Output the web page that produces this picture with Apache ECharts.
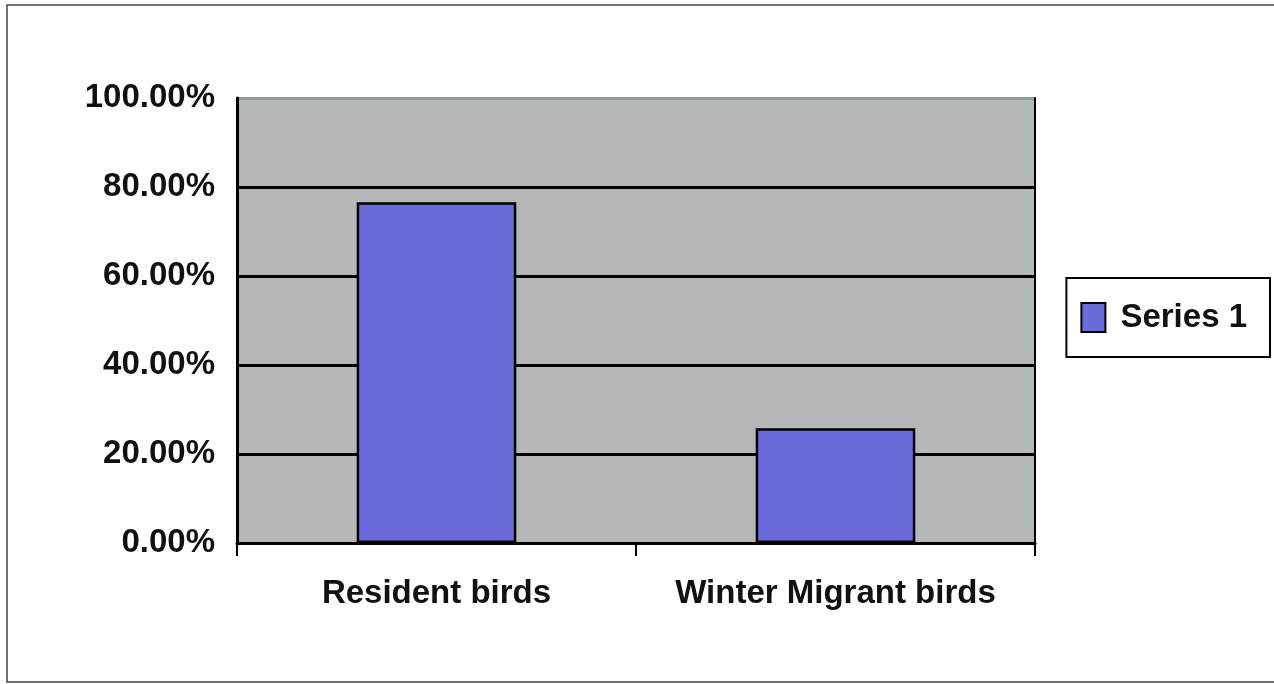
<!DOCTYPE html>
<html>
<head>
<meta charset="utf-8">
<script src="https://cdn.jsdelivr.net/npm/echarts@6/dist/echarts.min.js"></script>
<style>
	html, body { margin: 0; padding: 0; background: #fff; }
	#chart { width: 1274px; height: 684px; }
</style>
</head>
<body>
<div id="chart"></div>
<script>
(function() {
	"use strict";
	// 数据
	var categories = ['Resident birds', 'Winter Migrant birds'];
	var seriesName = 'Series 1';
	var seriesValues = [0.766, 0.258];
	var yTicks = [0, 0.2, 0.4, 0.6, 0.8, 1];

	var fontFamily = '"Liberation Sans", Arial, sans-serif';
	var myChart = echarts.init(document.getElementById('chart'));
	var option = {
		backgroundColor : '#ffffff',
		animation : false,
		graphic : [ {
			type : 'rect',
			shape : { x : 7, y : 5, width : 1270, height : 677 },
			style : { fill : 'none', stroke : '#444', lineWidth : 1.5 },
			silent : true
		} ],
		legend : {
			right : 4,
			top : 278,
			orient : 'vertical',
			data : [ seriesName ],
			borderColor : '#000',
			borderWidth : 2,
			padding : [ 23, 23, 23, 14 ],
			itemWidth : 24,
			itemHeight : 29,
			icon : 'rect',
			textStyle : {
				fontFamily : fontFamily,
				fontWeight : 'bold',
				fontSize : 33,
				color : '#111',
				padding : [ 0, 0, 0, 10 ]
			}
		},
		grid : {
			left : 237,
			right : 239,
			top : 98,
			bottom : 141,
			show : true,
			backgroundColor : '#b4b8b8',
			borderWidth : 0
		},
		xAxis : [ {
			type : 'category',
			data : categories,
			axisLine : { lineStyle : { color : '#000', width : 3 } },
			axisTick : { show : true, interval : 0, length : 13, lineStyle : { color : '#000', width : 2 } },
			axisLabel : {
				interval : 0,
				margin : 34,
				color : '#111',
				fontFamily : fontFamily,
				fontWeight : 'bold',
				fontSize : 33
			}
		} ],
		yAxis : [ {
			type : 'value',
			min : yTicks[0],
			max : yTicks[yTicks.length - 1],
			interval : 0.2,
			axisLine : { show : true, lineStyle : { color : '#000', width : 3 } },
			axisTick : { show : false },
			axisLabel : {
				margin : 22,
				color : '#111',
				fontFamily : fontFamily,
				fontWeight : 'bold',
				fontSize : 33,
				formatter : function(v) {
					return (v * 100).toFixed(2) + '%';
				}
			},
			splitLine : {
				show : true,
				lineStyle : {
					color : [ '#000', '#000', '#000', '#000', '#000', '#8e9a94' ],
					width : 3
				}
			}
		}, {
			type : 'value',
			position : 'right',
			min : yTicks[0],
			max : yTicks[yTicks.length - 1],
			interval : 0.2,
			axisLine : { show : true, lineStyle : { color : '#000', width : 2 } },
			axisTick : { show : false },
			axisLabel : { show : false },
			splitLine : { show : false }
		} ],
		series : [ {
			name : seriesName,
			type : 'bar',
			data : seriesValues,
			barWidth : '40%',
			itemStyle : {
				color : '#6a6adb',
				borderColor : '#000',
				borderWidth : 2.5
			}
		} ]
	};
	myChart.setOption(option);
})();
</script>
</body>
</html>
